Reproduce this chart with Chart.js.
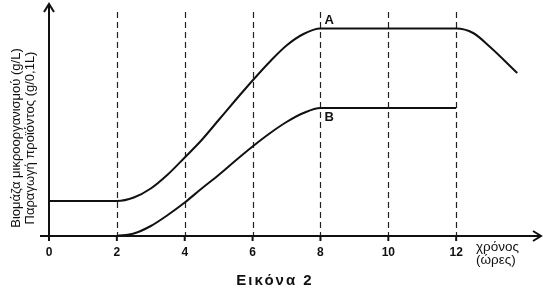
<!DOCTYPE html>
<html>
<head>
<meta charset="utf-8">
<script src="https://cdn.jsdelivr.net/npm/chart.js@4/dist/chart.umd.min.js"></script>
<style>
  html, body { margin: 0; padding: 0; background: #fff; }
  #wrap { width: 543px; height: 294px; position: relative; }
</style>
</head>
<body>
<div id="wrap"><canvas id="chart"></canvas></div>
<script>
// Curve A: biomass of the microorganism
const timeA = [0, 2, 2.5, 3, 3.5, 4, 4.5, 5, 5.5, 6, 6.5, 7, 7.5, 8, 12, 12.5, 13, 13.8];
const biomassA = [35, 35, 38.5, 47.5, 61.5, 78.5, 96, 116, 136, 155.5, 174, 190.5, 202, 207.5, 207.5, 203, 189, 163];

// Curve B: product
const timeB = [2, 2.5, 3, 3.5, 4, 4.5, 5, 5.5, 6, 6.5, 7, 7.5, 8, 12];
const productB = [0, 2.5, 10, 21, 33.5, 47.5, 61, 75.5, 89.5, 102.5, 114, 123, 128, 128];

// Axis ticks (hours) and texts
const hourTicks = [0, 2, 4, 6, 8, 10, 12];
const dashedHours = [2, 4, 6, 8, 10, 12];
const yTitleLines = ['Βιομάζα μικροοργανισμού (g/L)', 'Παραγωγή προϊόντος (g/0,1L)'];
const xTitleLines = ['χρόνος', '(ώρες)'];
const caption = 'Εικόνα 2';

const FONT = 'Arial, "Liberation Sans", sans-serif';

// Draws the axes, arrows, dashed guides and all texts
const figurePlugin = {
  id: 'figure',
  beforeDatasetsDraw(chart) {
    const { ctx, chartArea: a, scales: { x, y } } = chart;
    ctx.save();
    ctx.strokeStyle = '#222';
    ctx.lineWidth = 1.2;
    ctx.setLineDash([6, 4]);
    dashedHours.forEach(h => {
      const px = Math.round(x.getPixelForValue(h)) + 0.5;
      ctx.beginPath();
      ctx.moveTo(px, a.top + 8);
      ctx.lineTo(px, y.getPixelForValue(0));
      ctx.stroke();
    });
    ctx.restore();
  },
  afterDatasetsDraw(chart) {
    const { ctx, chartArea: a, scales: { x, y } } = chart;
    const x0 = x.getPixelForValue(0);
    const y0 = y.getPixelForValue(0);
    ctx.save();
    ctx.strokeStyle = '#111';
    ctx.fillStyle = '#111';
    ctx.lineWidth = 2;
    ctx.setLineDash([]);

    // axes
    ctx.beginPath();
    ctx.moveTo(40, y0);
    ctx.lineTo(a.right, y0);
    ctx.moveTo(x0, y0 + 4);
    ctx.lineTo(x0, a.top);
    ctx.stroke();

    // arrow heads
    ctx.beginPath();
    ctx.moveTo(a.right - 8, y0 - 5);
    ctx.lineTo(a.right, y0);
    ctx.lineTo(a.right - 8, y0 + 5);
    ctx.moveTo(x0 - 5, a.top + 8);
    ctx.lineTo(x0, a.top);
    ctx.lineTo(x0 + 5, a.top + 8);
    ctx.stroke();

    // tick marks and labels
    ctx.font = 'bold 12px ' + FONT;
    ctx.textAlign = 'center';
    ctx.textBaseline = 'middle';
    hourTicks.forEach(h => {
      const px = x.getPixelForValue(h);
      ctx.beginPath();
      ctx.moveTo(px, y0);
      ctx.lineTo(px, y0 + 5);
      ctx.stroke();
      ctx.fillText(String(h), px, y0 + 17);
    });

    // x title
    ctx.font = '13.5px ' + FONT;
    ctx.textAlign = 'left';
    ctx.fillText(xTitleLines[0], 476, y0 + 11);
    ctx.fillText(xTitleLines[1], 476, y0 + 24);

    // curve names
    ctx.font = 'bold 13px ' + FONT;
    ctx.fillText('A', x.getPixelForValue(8) + 4, 20);
    ctx.fillText('B', x.getPixelForValue(8) + 4, 117);

    // y title
    ctx.save();
    ctx.translate(16, 138);
    ctx.rotate(-Math.PI / 2);
    ctx.font = '13px ' + FONT;
    ctx.textAlign = 'center';
    ctx.fillText(yTitleLines[0], 0, 0);
    ctx.fillText(yTitleLines[1], 0, 14);
    ctx.restore();

    // caption
    ctx.font = 'bold 15px ' + FONT;
    ctx.textAlign = 'center';
    if ('letterSpacing' in ctx) ctx.letterSpacing = '2px';
    ctx.fillText(caption, 275, 281);
    ctx.restore();
  }
};

const toPoints = (xs, ys) => xs.map((t, i) => ({ x: t, y: ys[i] }));

new Chart(document.getElementById('chart'), {
  type: 'line',
  data: {
    datasets: [
      {
        label: 'A',
        data: toPoints(timeA, biomassA),
        borderColor: '#111',
        borderWidth: 2,
        pointRadius: 0,
        cubicInterpolationMode: 'monotone',
      },
      {
        label: 'B',
        data: toPoints(timeB, productB),
        borderColor: '#111',
        borderWidth: 2,
        pointRadius: 0,
        cubicInterpolationMode: 'monotone',
      },
    ],
  },
  options: {
    responsive: true,
    maintainAspectRatio: false,
    animation: false,
    layout: { padding: { left: 49, right: 2, top: 4, bottom: 58 } },
    scales: {
      x: { type: 'linear', min: 0, max: 14.5, display: false },
      y: { min: 0, max: 232, display: false },
    },
    plugins: {
      legend: { display: false },
      tooltip: { enabled: false },
    },
  },
  plugins: [figurePlugin],
});
</script>
</body>
</html>
